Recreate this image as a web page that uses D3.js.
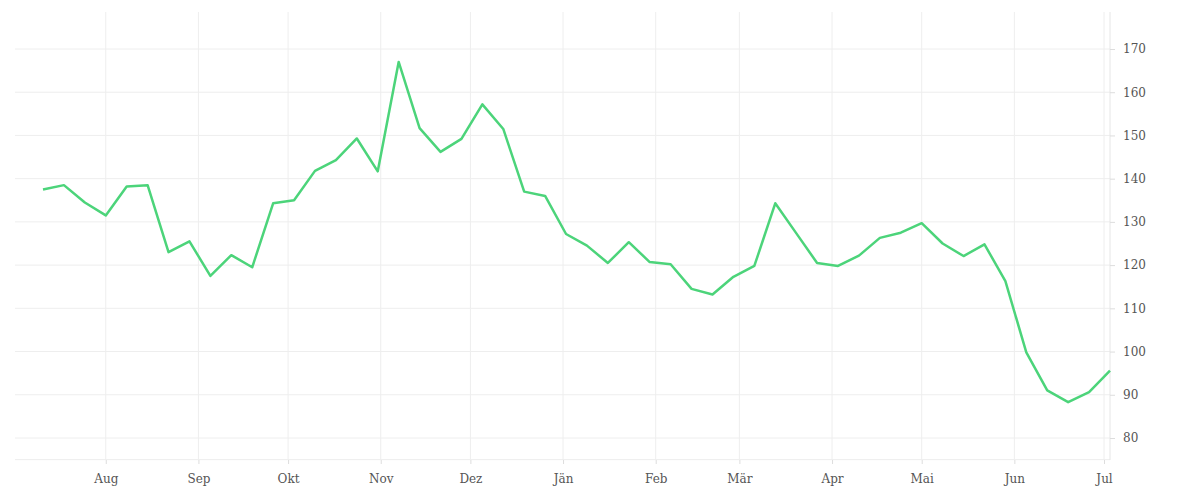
<!DOCTYPE html>
<html><head><meta charset="utf-8">
<script src="https://cdn.jsdelivr.net/npm/d3@7"></script>
<style>body{margin:0;background:#fff}</style>
</head><body><div id="chart"></div>
<script>
// Weekly values, starting Monday 11 Jul 2022
const startDate = '2022-07-11';
const values = [137.5, 138.5, 134.5, 131.5, 138.2, 138.5, 123, 125.5, 117.5, 122.3,
  119.5, 134.3, 135, 141.8, 144.3, 149.3, 141.7, 167, 151.7, 146.2,
  149.2, 157.2, 151.5, 137, 136, 127.2, 124.5, 120.5, 125.3, 120.7,
  120.2, 114.5, 113.2, 117.3, 119.8, 134.3, 127.4, 120.5, 119.8, 122.2,
  126.3, 127.5, 129.7, 125, 122.1, 124.8, 116.3, 99.8, 91, 88.3,
  90.6, 95.6];
const yTicks = [80, 90, 100, 110, 120, 130, 140, 150, 160, 170];
const monthNames = ['Jän','Feb','Mär','Apr','Mai','Jun','Jul','Aug','Sep','Okt','Nov','Dez'];

const W = 1200, H = 500;
const t0 = d3.timeParse('%Y-%m-%d')(startDate);
const data = values.map((v, i) => ({ date: d3.timeDay.offset(t0, i * 7), v }));

const x = d3.scaleTime()
  .domain([data[0].date, data[data.length - 1].date])
  .range([43, 1110]);
const y = d3.scaleLinear().domain([80, 170]).range([438, 49]);

const svg = d3.select('#chart').append('svg').attr('width', W).attr('height', H);
const font = '"DejaVu Serif", serif';

// vertical grid at month starts
const months = d3.timeMonth.range(d3.timeMonth.ceil(data[0].date), data[data.length - 1].date);
svg.append('g').selectAll('line').data(months).join('line')
  .attr('x1', d => x(d)).attr('x2', d => x(d))
  .attr('y1', 12).attr('y2', 460)
  .attr('stroke', '#eeeeee');

// horizontal grid
const hLines = [75].concat(yTicks);
svg.append('g').selectAll('line').data(hLines).join('line')
  .attr('x1', 15).attr('x2', 1110)
  .attr('y1', d => y(d)).attr('y2', d => y(d))
  .attr('stroke', '#eeeeee');

// right axis
const yAxis = svg.append('g').attr('transform', 'translate(1110,0)')
  .call(d3.axisRight(y).tickValues(yTicks).tickSize(5).tickPadding(8));
yAxis.select('.domain').attr('stroke', '#e6e6e6').attr('d', 'M0,12V460');
yAxis.selectAll('.tick line').attr('stroke', '#dddddd');
yAxis.selectAll('text').attr('font-family', font).attr('font-size', 12).attr('fill', '#555');

// bottom month labels
const xAxis = svg.append('g').attr('transform', 'translate(0,460)')
  .call(d3.axisBottom(x).tickValues(months).tickSize(4).tickPadding(10)
    .tickFormat(d => monthNames[d.getMonth()]));
xAxis.select('.domain').remove();
xAxis.selectAll('.tick line').attr('stroke', '#dddddd');
xAxis.selectAll('text').attr('font-family', font).attr('font-size', 12).attr('fill', '#555');

// line
svg.append('path').datum(data)
  .attr('fill', 'none')
  .attr('stroke', '#4cd47a')
  .attr('stroke-width', 2.5)
  .attr('stroke-linejoin', 'round')
  .attr('d', d3.line().x(d => x(d.date)).y(d => y(d.v)));
</script>
</body></html>
